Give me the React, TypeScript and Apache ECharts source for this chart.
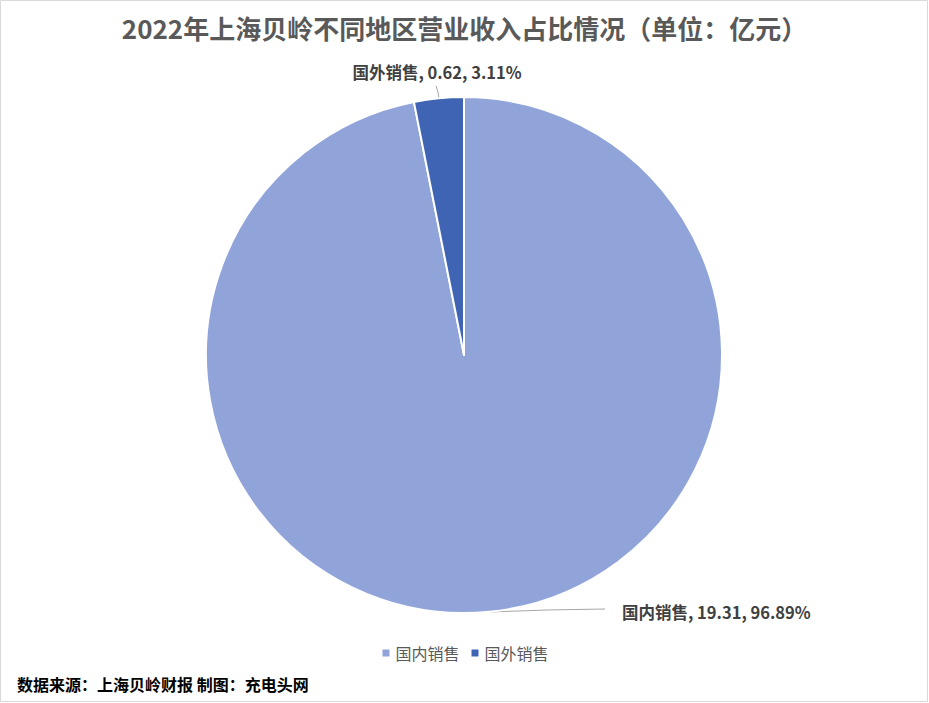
import React, { useEffect, useRef } from "react";
import * as echarts from "echarts";

const titleText = "2022年上海贝岭不同地区营业收入占比情况（单位：亿元）";
const categories = ["国内销售", "国外销售"];
const values = [19.31, 0.62];
const colors = ["#91A4DA", "#3F64B3"];
const sourceText = "数据来源：上海贝岭财报 制图：充电头网";

const FONT = '"Noto Sans CJK SC", "Noto Sans", sans-serif';

export default function App() {
  const ref = useRef<HTMLDivElement>(null);
  useEffect(() => {
    document.body.style.margin = "0";
    if (!ref.current) return;
    const chart = echarts.init(ref.current, null, { renderer: "svg" });
    const cx = 464;
    const cy = 355;
    const r = 258;
    chart.setOption({
      animation: false,
      backgroundColor: "#ffffff",
      title: {
        text: titleText,
        left: "center",
        top: 9,
        textStyle: {
          fontFamily: FONT,
          fontSize: 26,
          fontWeight: "bold",
          color: "#595959",
        },
      },
      legend: {
        data: categories,
        top: 640,
        left: "center",
        icon: "rect",
        itemWidth: 9,
        itemHeight: 9,
        itemGap: 10,
        textStyle: { fontFamily: FONT, fontSize: 16, color: "#595959" },
      },
      graphic: [
        {
          type: "rect",
          shape: { x: 0.5, y: 0.5, width: 927, height: 701 },
          style: { fill: "none", stroke: "#D9D9D9", lineWidth: 1 },
          silent: true,
        },
        {
          type: "text",
          left: 17,
          top: 676,
          style: {
            text: sourceText,
            fontFamily: FONT,
            fontSize: 16,
            fontWeight: "bold",
            fill: "#000000",
          },
        },
      ],
      series: [
        {
          type: "pie",
          center: [cx, cy],
          radius: r,
          startAngle: 90,
          clockwise: true,
          color: colors,
          itemStyle: { borderColor: "#ffffff", borderWidth: 2 },
          label: {
            show: true,
            formatter: "{b}, {c}, {d}%",
            fontFamily: FONT,
            fontSize: 16.5,
            fontWeight: "bold",
            color: "#404040",
          },
          labelLine: {
            show: true,
            lineStyle: { color: "#A6A6A6", width: 1 },
          },
          labelLayout: (params: any) => {
            if (params.dataIndex === 0) {
              return {
                x: 622,
                y: 612,
                align: "left",
                verticalAlign: "middle",
                labelLinePoints: [
                  [489, 612],
                  [547, 610],
                  [605, 609],
                ],
              };
            }
            return {
              x: 437,
              y: 72,
              align: "center",
              verticalAlign: "middle",
              labelLinePoints: [
                [439, 98],
                [438, 92],
                [436, 86],
              ],
            };
          },
          data: categories.map((name, i) => ({ name, value: values[i] })),
        },
      ],
    });
    return () => chart.dispose();
  }, []);
  return <div ref={ref} style={{ width: 929, height: 703 }} />;
}
